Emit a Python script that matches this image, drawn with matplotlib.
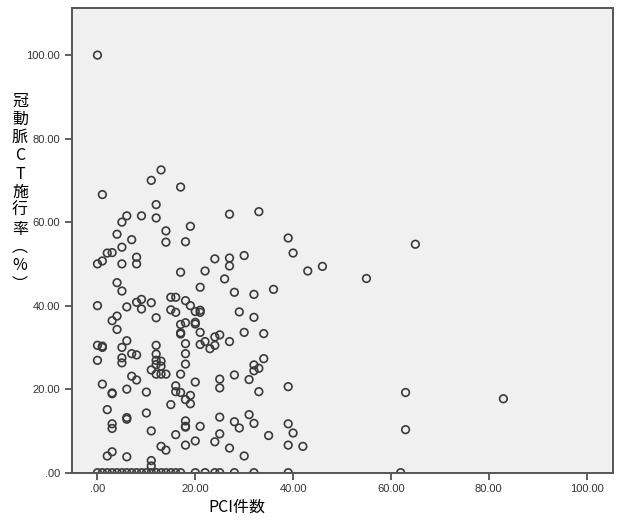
import numpy as np
from matplotlib import pyplot as plt
from matplotlib import ticker as mtick
from matplotlib import rcParams

rcParams['font.family'] = ['Liberation Sans', 'Noto Sans CJK JP', 'DejaVu Sans']

# PCI件数 (x) と 冠動脈CT施行率 (y)
pci = [0, 1, 13, 11, 17, 12, 27, 33, 12, 6, 9, 5, 19, 14, 4, 7, 14, 18, 39, 5, 65, 55,
       2, 3, 1, 0, 5, 8, 8, 40, 30, 24, 27, 27, 43, 46, 17, 22, 26, 21, 4, 5, 28, 32, 36,
       0, 6, 8, 9, 9, 11, 15, 16, 15, 16, 18, 19, 20, 21, 21, 12, 29, 32, 3, 4, 4, 17, 18,
       20, 20, 17, 17, 21, 30, 34, 25, 24, 22, 27, 21, 23, 24, 18, 18, 18, 12, 12, 12, 13,
       12, 13, 11, 12, 13, 14, 17,
       0, 1, 1, 0, 5, 6, 5, 5, 7, 8, 7, 8, 1, 3, 3, 6, 10, 20, 25, 25, 28, 31, 32, 32, 33,
       34, 33, 39, 16, 16, 17, 18, 19, 19, 15,
       2, 10, 6, 6, 3, 3, 11, 18, 18, 18, 21, 25, 25, 28, 29, 31, 32, 35, 39, 40, 39, 42,
       16, 20, 18, 24, 27, 30, 13, 14, 2, 3, 6, 11, 11, 63, 83, 63]
ct_rate = [100.0, 66.6, 72.5, 70.0, 68.4, 64.2, 61.9, 62.5, 61.0, 61.5, 61.5, 60.0, 59.0,
           57.9, 57.1, 55.8, 55.2, 55.3, 56.2, 54.0, 54.7, 46.5,
           52.6, 52.7, 50.7, 50.0, 50.0, 51.6, 50.0, 52.6, 52.0, 51.2, 51.4, 49.5, 48.3,
           49.4, 48.0, 48.3, 46.4, 44.4, 45.5, 43.5, 43.2, 42.7, 43.9,
           40.0, 39.7, 40.8, 41.5, 39.2, 40.7, 42.0, 42.0, 39.0, 38.4, 41.2, 40.0, 38.6,
           38.9, 38.4, 37.1, 38.5, 37.2, 36.4, 37.5, 34.3, 35.5, 35.9, 36.0, 35.6, 33.5,
           33.2, 33.6, 33.6, 33.3, 33.0, 32.5, 31.4, 31.4, 30.7, 29.7, 30.5, 30.9, 28.5,
           26.0, 30.5, 28.4, 26.9, 26.7, 25.9, 25.5, 24.6, 23.6, 23.6, 23.6, 23.6,
           30.5, 30.3, 30.0, 26.9, 30.0, 31.6, 27.5, 26.3, 28.5, 28.2, 23.1, 22.2, 21.2,
           19.1, 18.9, 20.0, 19.3, 21.7, 22.4, 20.3, 23.4, 22.3, 25.8, 24.4, 25.0, 27.3,
           19.4, 20.6, 20.8, 19.4, 19.2, 17.5, 18.5, 16.5, 16.3,
           15.1, 14.3, 13.2, 12.8, 11.7, 10.6, 10.0, 12.4, 11.1, 10.9, 11.1, 13.3, 9.3,
           12.2, 10.7, 13.9, 11.8, 8.9, 11.7, 9.5, 6.6, 6.3, 9.1, 7.6, 6.6, 7.4, 5.9, 4.0,
           6.3, 5.4, 4.0, 5.0, 3.8, 2.9, 1.6, 19.2, 17.7, 10.3]

# 施行率 0% の施設
pci_zero = [0, 1, 2, 3, 4, 5, 6, 7, 8, 9, 10, 11, 12, 13, 14, 15, 16, 17,
            20, 22, 24, 25, 28, 32, 39, 62]

ticks = [0, 20, 40, 60, 80, 100]
ylabel_chars = ['冠', '動', '脈', 'C', 'T', '施', '行', '率', '︵', '%', '︶']

fig = plt.figure(figsize=(6.21, 5.2), dpi=100)
ax = fig.add_axes([0.116, 0.091, 0.871, 0.893])
ax.set_facecolor('#f0f0f0')

ax.scatter(pci, ct_rate, s=30, facecolors='none', edgecolors='#3a3a3a', linewidths=1.2)
ax.scatter(pci_zero, [0] * len(pci_zero), s=30, facecolors='none',
           edgecolors='#3a3a3a', linewidths=1.2)

ax.set_xlim(-5.2, 105.4)
ax.set_ylim(0, 111.2)


def fmt(v, pos):
    s = '%.2f' % v
    return s[1:] if s.startswith('0') else s


ax.set_xticks(ticks)
ax.set_yticks(ticks)
ax.xaxis.set_major_formatter(mtick.FuncFormatter(fmt))
ax.yaxis.set_major_formatter(mtick.FuncFormatter(fmt))
ax.tick_params(direction='out', length=5, width=1.2, colors='#444444',
               labelsize=8, labelcolor='#333333')
for sp in ax.spines.values():
    sp.set_color('#555555')
    sp.set_linewidth(1.4)

fig.text(237 / 621, 1 - 507 / 520, 'PCI件数', ha='center', va='center',
         fontsize=11.5, family=['Noto Sans CJK JP', 'DejaVu Sans'])
for i, ch in enumerate(ylabel_chars):
    fig.text(20 / 621, 1 - (101 + i * 18.3) / 520, ch, ha='center', va='center',
             fontsize=11.5, family=['Noto Sans CJK JP', 'DejaVu Sans'])

fig.savefig('out.png', dpi=100)
